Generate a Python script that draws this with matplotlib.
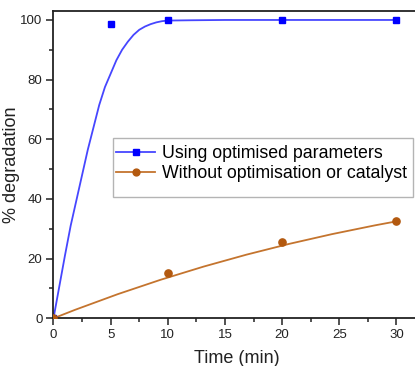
import matplotlib
matplotlib.use("Agg")
import matplotlib.pyplot as plt
from matplotlib.path import Path
from matplotlib.patches import PathPatch, Rectangle
from matplotlib.lines import Line2D

plt.rcParams['font.family'] = ['Liberation Sans', 'DejaVu Sans']

# Measured data points
time_opt = [0, 5, 10, 20, 30]
deg_opt = [0, 98.5, 100, 100, 100]
time_ctrl = [0, 10, 20, 30]
deg_ctrl = [0, 15.3, 25.5, 32.5]

# Smooth connecting curve of the optimised series
curve_opt_t = [0, 0.5, 1.0, 1.5, 2.0, 2.5, 3.0, 3.5, 4.0, 4.5, 5.0, 5.5, 6.0,
               6.5, 7.0, 7.5, 8.0, 8.5, 9.0, 9.5, 10, 12, 15, 20, 30]
curve_opt_v = [0, 10.5, 21, 31, 39.5, 48, 56.5, 64, 71.5, 77.5, 82, 86.5, 90,
               92.7, 95, 96.7, 97.8, 98.6, 99.2, 99.6, 99.8, 99.9, 100, 100, 100]

labels = ["Using optimised parameters", "Without optimisation or catalyst"]
xticks = [0, 5, 10, 15, 20, 25, 30]
yticks = [0, 20, 40, 60, 80, 100]

blue_line = '#4646ff'
blue_mark = '#0000ff'
brown_line = '#c4742e'
brown_mark = '#b3590f'

fig = plt.figure(figsize=(4.15, 3.66), dpi=100)
ax = fig.add_axes([0.1289, 0.1303, 0.8815, 0.8396])

# optimised: smooth line + markers
ax.plot(curve_opt_t, curve_opt_v, color=blue_line, lw=1.3, zorder=2)
ax.plot(time_opt, deg_opt, linestyle='none', marker='s', ms=4.6,
        color=blue_mark, zorder=3)

# control: B-spline (cubic Bezier with the data points as control points)
verts = list(zip(time_ctrl, deg_ctrl))
codes = [Path.MOVETO, Path.CURVE4, Path.CURVE4, Path.CURVE4]
ax.add_patch(PathPatch(Path(verts, codes), facecolor='none',
                       edgecolor=brown_line, lw=1.3, zorder=2))
ax.plot(time_ctrl, deg_ctrl, linestyle='none', marker='o', ms=5.2,
        color=brown_mark, zorder=4)

ax.set_xlim(0, 32)
ax.set_ylim(0, 103)
ax.set_xticks(xticks)
ax.set_yticks(yticks)
ax.set_xticks([2.5, 7.5, 12.5, 17.5, 22.5, 27.5], minor=True)
ax.set_yticks([10, 30, 50, 70, 90], minor=True)
ax.tick_params(which='major', direction='out', length=5, width=1.1,
               labelsize=9.5, colors='#222222', pad=3)
ax.tick_params(which='minor', direction='out', length=3, width=1.1,
               colors='#222222')
for s in ['left', 'bottom', 'top']:
    ax.spines[s].set_linewidth(1.3)
    ax.spines[s].set_color('#222222')
ax.spines['right'].set_visible(False)

ax.set_xlabel("Time (min)", fontsize=13, color='#222222')
ax.set_ylabel("% degradation", fontsize=13, color='#222222')
ax.xaxis.set_label_coords(0.5, -0.103)
ax.yaxis.set_label_coords(-0.092, 0.5)

# legend frame
ax.add_patch(Rectangle((0.1627, 0.3947), 0.8203, 0.192, transform=ax.transAxes,
                       facecolor='white', edgecolor='#b4b4b4', lw=1.0,
                       zorder=5, clip_on=False))

handles = [Line2D([], [], color=blue_line, lw=1.3, marker='s', ms=4.6,
                  markerfacecolor=blue_mark, markeredgecolor=blue_mark),
           Line2D([], [], color=brown_line, lw=1.3, marker='o', ms=5.2,
                  markerfacecolor=brown_mark, markeredgecolor=brown_mark)]
leg = ax.legend(handles, labels, loc='upper left', bbox_to_anchor=(0.160, 0.577),
                borderaxespad=0, fontsize=12.8, frameon=False,
                handlelength=2.15, handletextpad=0.4, labelspacing=0.14,
                borderpad=0.25, markerscale=0.95)
leg.set_zorder(6)

fig.savefig("out.png", dpi=100)
